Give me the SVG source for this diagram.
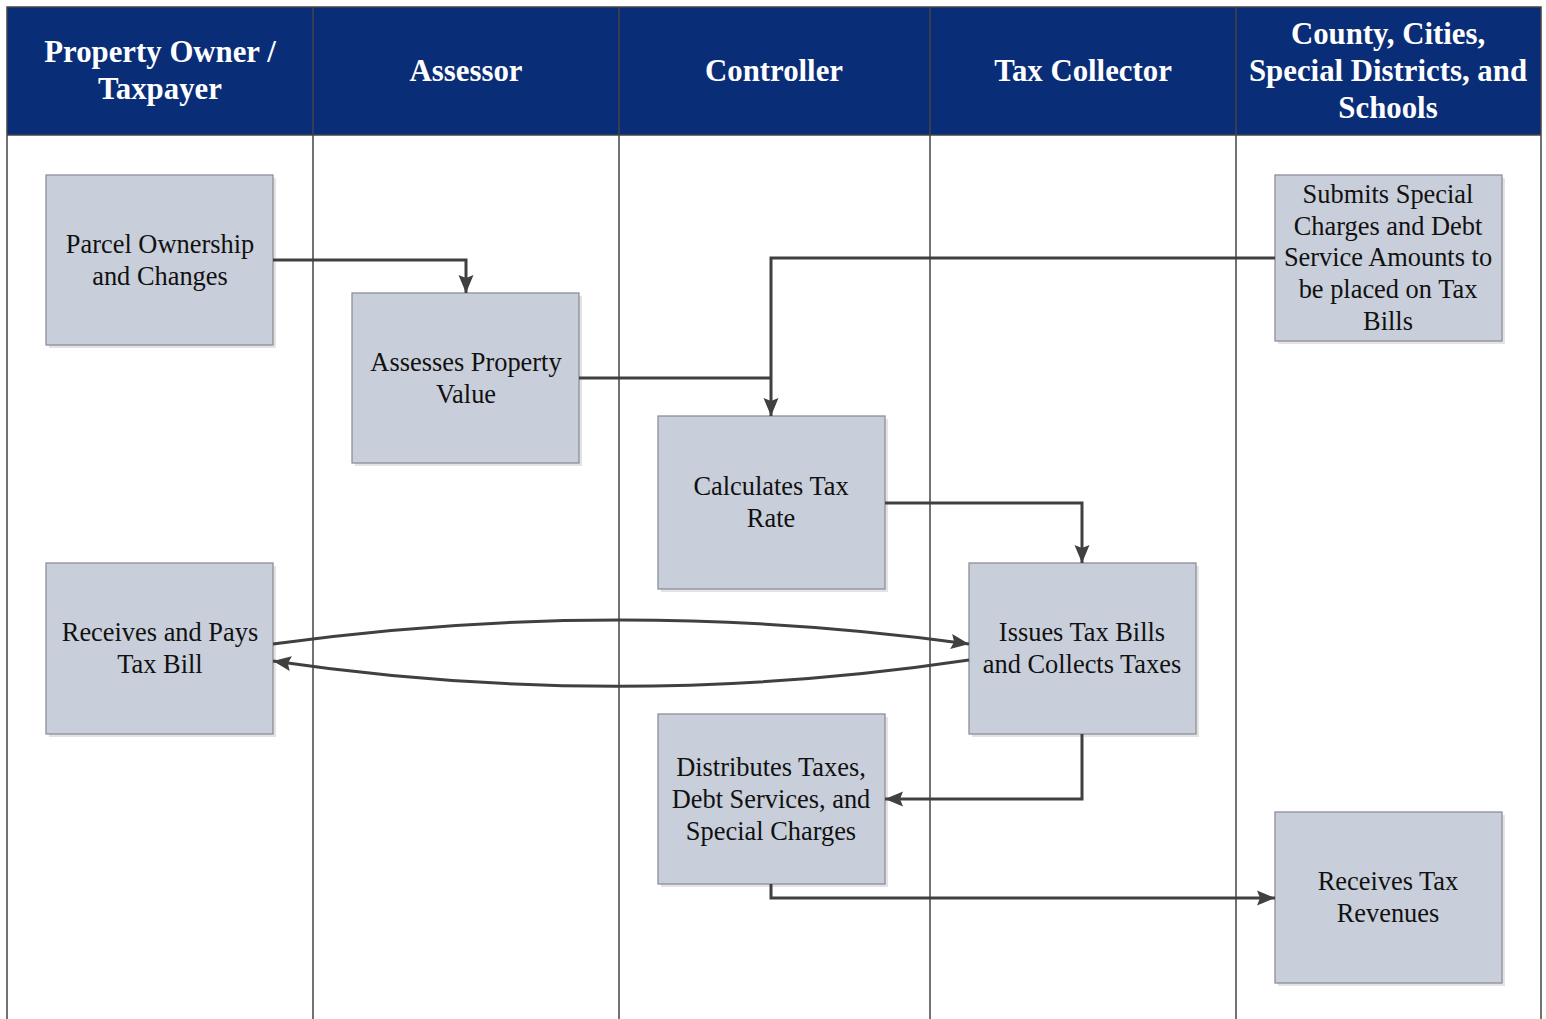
<svg xmlns="http://www.w3.org/2000/svg" width="1546" height="1019" viewBox="0 0 1546 1019">
<style>
.hdr{font-family:"Liberation Serif","Times New Roman",serif;font-weight:bold;font-size:30.8px;fill:#fff;text-anchor:middle}
.lbl{font-family:"Liberation Serif","Times New Roman",serif;font-size:26.4px;fill:#111;text-anchor:middle}
.box{fill:#c8ceda;stroke:#8c9099;stroke-width:1.3}
.sh{fill:#e3e3e3}
.lane{stroke:#444;stroke-width:1.5;fill:none}
.conn{stroke:#404040;stroke-width:3;fill:none}
</style>
<defs>
<marker id="ah" markerUnits="userSpaceOnUse" markerWidth="20" markerHeight="18" refX="18" refY="9" orient="auto">
<path d="M0,1.5 L18,9 L0,16.5 L3,9 Z" fill="#404040"/>
</marker>
</defs>
<rect x="0" y="0" width="1546" height="1019" fill="#fff"/>
<g id="lanes">
<rect x="7" y="7" width="1534" height="128" fill="#0a2d78"/>
<path class="lane" d="M7,1019 V7 H1541 V1019 M7,135 H1541 M313,7 V1019 M619,7 V1019 M930,7 V1019 M1236,7 V1019"/>
<text class="hdr" x="160" y="62">Property Owner /</text>
<text class="hdr" x="160" y="99">Taxpayer</text>
<text class="hdr" x="466" y="81">Assessor</text>
<text class="hdr" x="774" y="81">Controller</text>
<text class="hdr" x="1083" y="81">Tax Collector</text>
<text class="hdr" x="1388" y="44">County, Cities,</text>
<text class="hdr" x="1388" y="81">Special Districts, and</text>
<text class="hdr" x="1388" y="118">Schools</text>
</g>
<g id="n1"><rect class="sh" x="49" y="178" width="227" height="170"/><rect class="box" x="46" y="175" width="227" height="170"/>
<text class="lbl" x="160" y="253">Parcel Ownership</text><text class="lbl" x="160" y="285">and Changes</text></g>
<g id="n2"><rect class="sh" x="355" y="296" width="227" height="170"/><rect class="box" x="352" y="293" width="227" height="170"/>
<text class="lbl" x="466" y="371">Assesses Property</text><text class="lbl" x="466" y="403">Value</text></g>
<g id="n3"><rect class="sh" x="661" y="419" width="227" height="173"/><rect class="box" x="658" y="416" width="227" height="173"/>
<text class="lbl" x="771" y="495">Calculates Tax</text><text class="lbl" x="771" y="527">Rate</text></g>
<g id="n4"><rect class="sh" x="972" y="566" width="227" height="171"/><rect class="box" x="969" y="563" width="227" height="171"/>
<text class="lbl" x="1082" y="641">Issues Tax Bills</text><text class="lbl" x="1082" y="673">and Collects Taxes</text></g>
<g id="n5"><rect class="sh" x="1278" y="178" width="227" height="166"/><rect class="box" x="1275" y="175" width="227" height="166"/>
<text class="lbl" x="1388" y="203">Submits Special</text><text class="lbl" x="1388" y="235">Charges and Debt</text><text class="lbl" x="1388" y="266">Service Amounts to</text><text class="lbl" x="1388" y="298">be placed on Tax</text><text class="lbl" x="1388" y="330">Bills</text></g>
<g id="n6"><rect class="sh" x="49" y="566" width="227" height="171"/><rect class="box" x="46" y="563" width="227" height="171"/>
<text class="lbl" x="160" y="641">Receives and Pays</text><text class="lbl" x="160" y="673">Tax Bill</text></g>
<g id="n7"><rect class="sh" x="661" y="717" width="227" height="170"/><rect class="box" x="658" y="714" width="227" height="170"/>
<text class="lbl" x="771" y="776">Distributes Taxes,</text><text class="lbl" x="771" y="808">Debt Services, and</text><text class="lbl" x="771" y="840">Special Charges</text></g>
<g id="n8"><rect class="sh" x="1278" y="815" width="227" height="171"/><rect class="box" x="1275" y="812" width="227" height="171"/>
<text class="lbl" x="1388" y="890">Receives Tax</text><text class="lbl" x="1388" y="922">Revenues</text></g>
<g id="connectors">
<path class="conn" d="M273,260 H466 V293" marker-end="url(#ah)"/>
<path class="conn" d="M579,378 H771"/>
<path class="conn" d="M1275,258 H771 V416" marker-end="url(#ah)"/>
<path class="conn" d="M885,503 H1082 V563" marker-end="url(#ah)"/>
<path class="conn" d="M273,644 Q619,596 969,644" marker-end="url(#ah)"/>
<path class="conn" d="M969,660 Q619,712 273,661" marker-end="url(#ah)"/>
<path class="conn" d="M1082,734 V799 H885" marker-end="url(#ah)"/>
<path class="conn" d="M771,884 V898 H1275" marker-end="url(#ah)"/>
</g>
</svg>
